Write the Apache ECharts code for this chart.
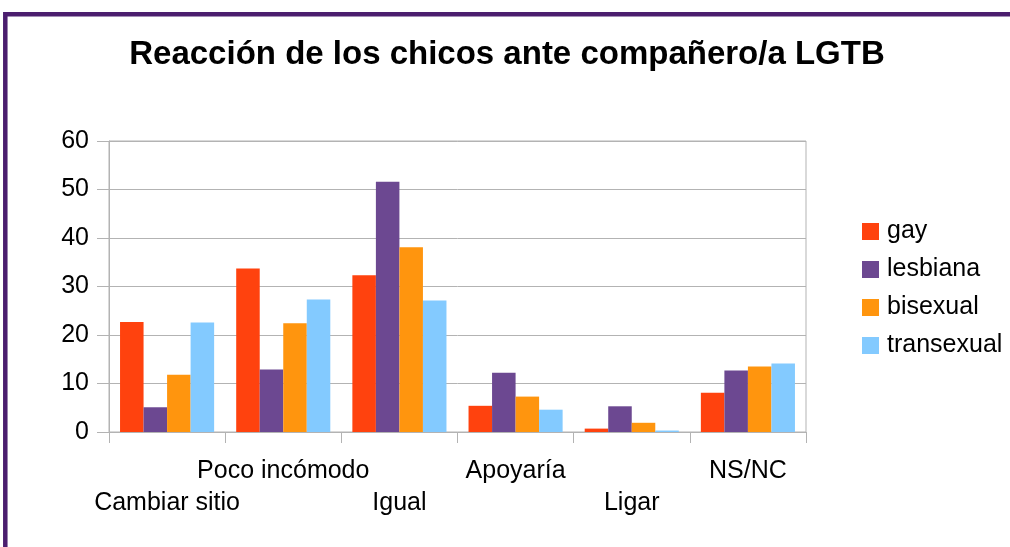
<!DOCTYPE html>
<html>
<head>
<meta charset="utf-8">
<script src="https://cdn.jsdelivr.net/npm/echarts@6/dist/echarts.min.js"></script>
<style>
  html, body { margin: 0; padding: 0; background: #fff; }
  #chart { width: 1010px; height: 547px; }
</style>
</head>
<body>
<div id="chart"></div>
<script>
// categories and values
const categories = ['Cambiar sitio', 'Poco incómodo', 'Igual', 'Apoyaría', 'Ligar', 'NS/NC']
const gay = [22.7, 33.7, 32.3, 5.4, 0.7, 8.1]
const lesbiana = [5.1, 12.9, 51.6, 12.2, 5.3, 12.7]
const bisexual = [11.8, 22.4, 38.1, 7.3, 1.9, 13.5]
const transexual = [22.6, 27.3, 27.1, 4.6, 0.3, 14.1]
const yTicks = [0, 10, 20, 30, 40, 50, 60]

const font = 'Liberation Sans, Arial, sans-serif'
const gridColor = '#b3b3b3'

const chart = echarts.init(document.getElementById('chart'), null, { renderer: 'canvas' })

const mkSeries = (name, data, color) => ({
  name,
  type: 'bar',
  data,
  barGap: '0%',
  barCategoryGap: '19%',
  itemStyle: { color },
  emphasis: { disabled: true }
})

chart.setOption({
  backgroundColor: '#fff',
  animation: false,
  title: {
    text: 'Reacción de los chicos ante compañero/a LGTB',
    left: 502,
    textAlign: 'center',
    top: 33,
    textStyle: { fontFamily: font, fontSize: 33, fontWeight: 'bold', color: '#000' }
  },
  legend: {
    orient: 'vertical',
    left: 857,
    top: 214,
    itemWidth: 17,
    itemHeight: 17,
    itemGap: 13,
    icon: 'rect',
    textStyle: { fontFamily: font, fontSize: 25, color: '#000', padding: [0, 0, 0, 3] },
    data: ['gay', 'lesbiana', 'bisexual', 'transexual']
  },
  grid: {
    left: 109, right: 204, top: 141, bottom: 115,
    show: true, borderColor: gridColor, borderWidth: 1,
    containLabel: false
  },
  xAxis: {
    type: 'category',
    data: categories,
    axisLine: { lineStyle: { color: gridColor } },
    axisTick: { show: true, length: 11, lineStyle: { color: gridColor } },
    axisLabel: {
      interval: 0,
      margin: 23,
      fontFamily: font,
      fontSize: 25,
      color: '#000',
      lineHeight: 32,
      formatter: (v, i) => (i % 2 === 0 ? '\n' + v : v)
    }
  },
  yAxis: {
    type: 'value',
    min: yTicks[0],
    max: yTicks[yTicks.length - 1],
    interval: 10,
    axisLine: { show: true, lineStyle: { color: gridColor } },
    axisTick: { show: true, length: 12, lineStyle: { color: gridColor } },
    splitLine: { lineStyle: { color: gridColor } },
    axisLabel: { fontFamily: font, fontSize: 25, color: '#000', margin: 20 }
  },
  graphic: [
    {
      type: 'rect',
      shape: { x: 5.3, y: 14.3, width: 1200, height: 700 },
      style: { fill: 'none', stroke: '#4b1e6e', lineWidth: 4.5 },
      z: 100
    }
  ],
  series: [
    mkSeries('gay', gay, '#ff420e'),
    mkSeries('lesbiana', lesbiana, '#6c4891'),
    mkSeries('bisexual', bisexual, '#ff950e'),
    mkSeries('transexual', transexual, '#83caff')
  ]
})
</script>
</body>
</html>
